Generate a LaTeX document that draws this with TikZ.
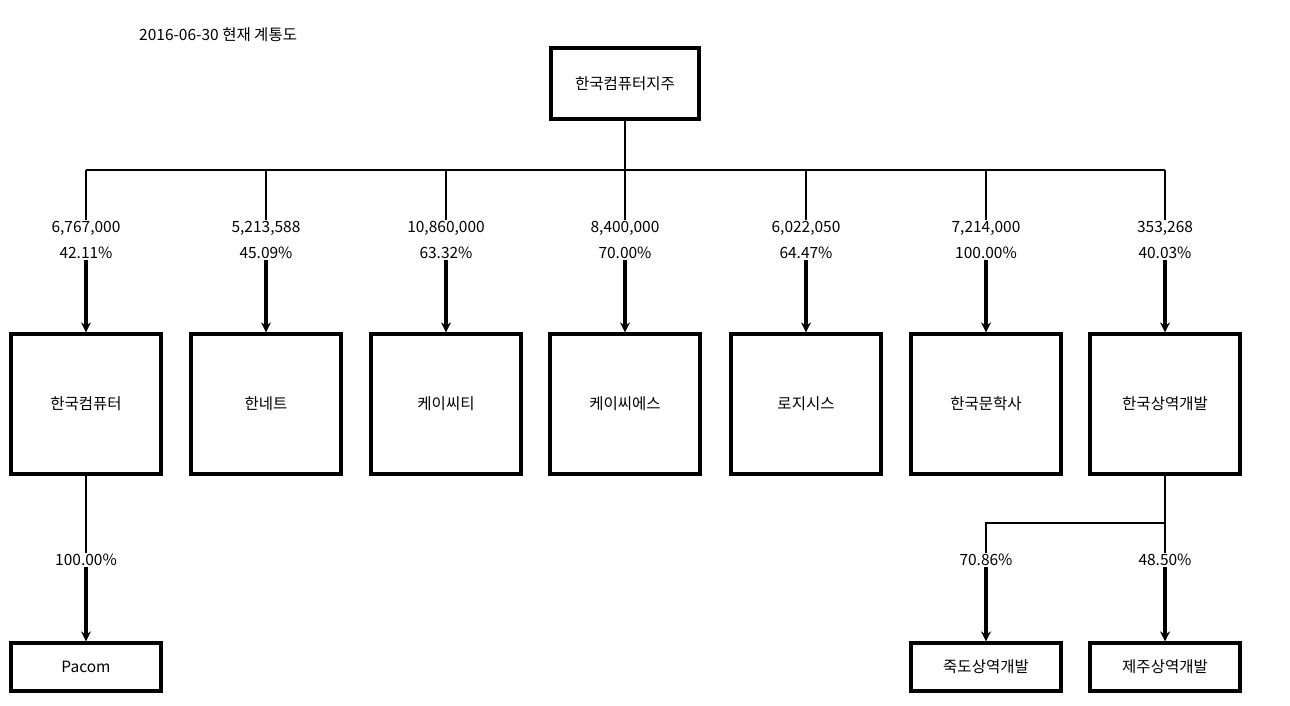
\documentclass[tikz,border=0pt]{standalone}
\usepackage{fontspec}
\setmainfont{Noto Sans CJK KR}
\usetikzlibrary{arrows.meta}
\begin{document}
\begin{tikzpicture}[x=1pt,y=-1pt,
  box/.style={draw,line width=3.2pt,minimum width=150pt,minimum height=140pt,inner sep=0pt,font=\fontsize{15.5}{18}\selectfont},
  sbox/.style={box,minimum height=48pt},
  thin/.style={line width=1.6pt},
  arr/.style={line width=3.2pt,-{Stealth[length=10pt,width=10pt]}},
  lab/.style={font=\fontsize{15.5}{18}\selectfont,inner sep=1pt}]
\useasboundingbox (0,0) rectangle (1290,706);
\node[lab,anchor=west] (title) at (138,35) {2016-06-30 현재 계통도};
\node[box,minimum width=148pt,minimum height=71pt] (top) at (625,83.5) {한국컴퓨터지주};
\coordinate (bus) at (625,170);
\draw[thin] (top.south) -- (bus);
\foreach \n/\x/\name/\a/\b in {c1/86/한국컴퓨터/{6,767,000}/{42.11\%}, c2/266/한네트/{5,213,588}/{45.09\%}, c3/446/케이씨티/{10,860,000}/{63.32\%}, c4/625/케이씨에스/{8,400,000}/{70.00\%}, c5/806/로지시스/{6,022,050}/{64.47\%}, c6/986/한국문학사/{7,214,000}/{100.00\%}, c7/1165/한국상역개발/{353,268}/{40.03\%}}{
  \node[box] (\n) at (\x,404) {\name};
  \coordinate (\n b) at (\x,170);
  \node[lab] (\n l1) at (\x,228) {\a};
  \node[lab] (\n l2) at (\x,253) {\b};
  \draw[thin] (\n b) -- (\n l1.north);
  \draw[arr] (\n l2.south) -- (\n.north);
}
\draw[thin] (c1b) -- (c7b);
% Pacom
\node[sbox] (pacom) at (86,667) {Pacom};
\node[lab] (pl) at (86,560) {100.00\%};
\draw[thin] (c1.south) -- (pl.north);
\draw[arr] (pl.south) -- (pacom.north);
% right subsidiaries
\node[sbox] (jd) at (986,667) {죽도상역개발};
\node[sbox] (jj) at (1165,667) {제주상역개발};
\coordinate (jn) at (1165,523);
\coordinate (jw) at (986,523);
\node[lab] (jdl) at (986,560) {70.86\%};
\node[lab] (jjl) at (1165,560) {48.50\%};
\draw[thin] (c7.south) -- (jjl.north);
\draw[thin] (jn) -- (jw) -- (jdl.north);
\draw[arr] (jdl.south) -- (jd.north);
\draw[arr] (jjl.south) -- (jj.north);
\end{tikzpicture}
\end{document}
